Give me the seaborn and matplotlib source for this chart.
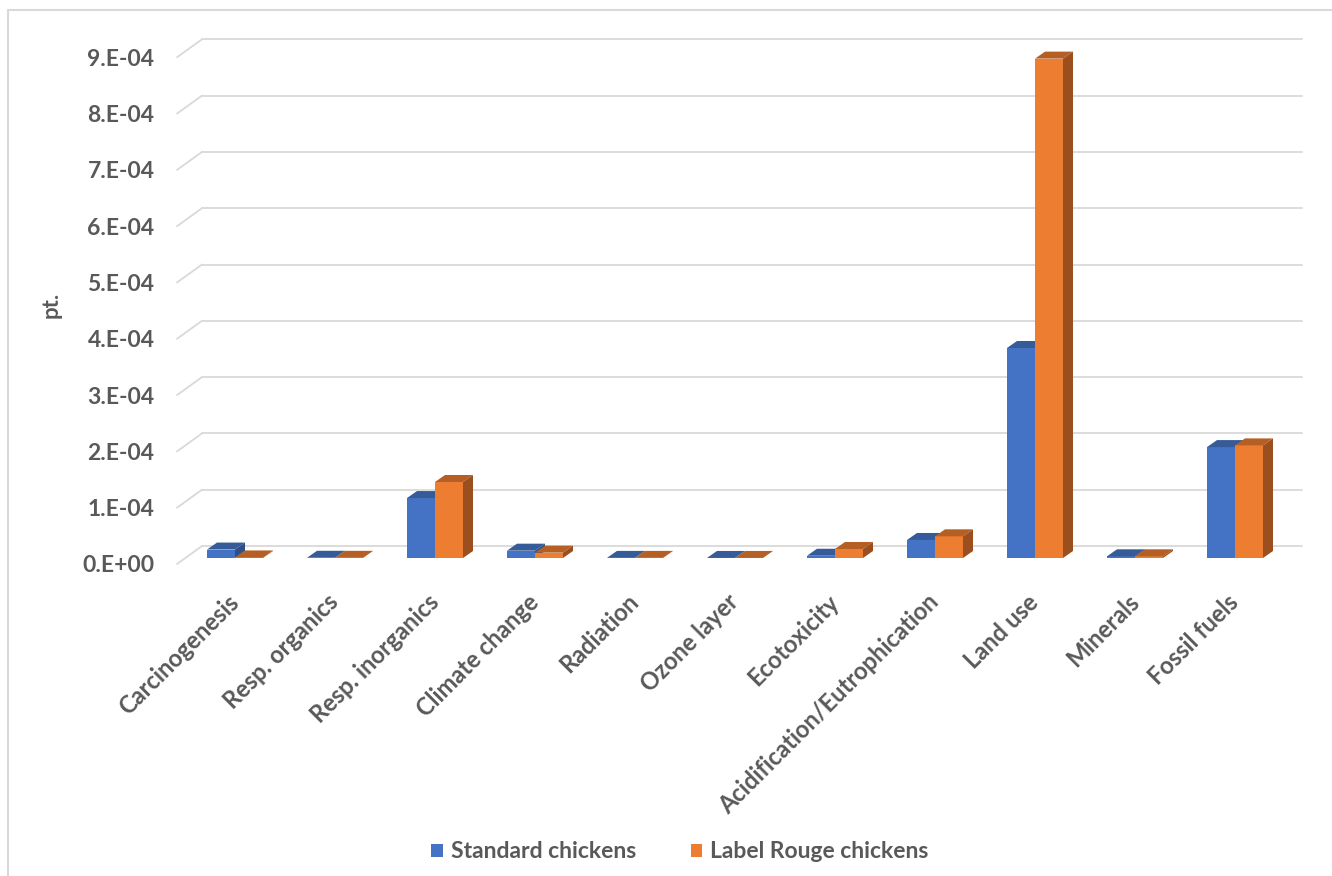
import numpy as np
import pandas as pd
import seaborn as sns
import matplotlib.pyplot as plt
from matplotlib.patches import Polygon
from matplotlib.lines import Line2D
from matplotlib.transforms import ScaledTranslation

# Data
categories = ["Carcinogenesis", "Resp. organics", "Resp. inorganics", "Climate change",
              "Radiation", "Ozone layer", "Ecotoxicity", "Acidification/Eutrophication",
              "Land use", "Minerals", "Fossil fuels"]
standard = [1.5e-5, 4e-7, 1.065e-4, 1.3e-5, 2e-7, 1e-7, 4e-6, 3.2e-5, 3.73e-4, 3e-6, 1.97e-4]
label_rouge = [1e-6, 3e-7, 1.35e-4, 9.5e-6, 2e-7, 1e-7, 1.6e-5, 3.85e-5, 8.87e-4, 3e-6, 2.0e-4]
series = ["Standard chickens", "Label Rouge chickens"]
yticks = [0, 1e-4, 2e-4, 3e-4, 4e-4, 5e-4, 6e-4, 7e-4, 8e-4, 9e-4]
ytick_labels = ["0.E+00", "1.E-04", "2.E-04", "3.E-04", "4.E-04",
                "5.E-04", "6.E-04", "7.E-04", "8.E-04", "9.E-04"]

front = ["#4472C4", "#ED7D31"]
top = ["#355B99", "#B65F24"]
side = ["#2E5088", "#9B4F1E"]
text_col = "#595959"
grid_col = "#D9D9D9"

df = pd.DataFrame({
    "category": categories * 2,
    "series": [series[0]] * len(categories) + [series[1]] * len(categories),
    "value": standard + label_rouge,
})

sns.set_style("white")
plt.rcParams["font.family"] = ["Lato", "DejaVu Sans"]

W, H, DPI = 1332, 876, 100
fig = plt.figure(figsize=(W / DPI, H / DPI), dpi=DPI)
ax_l, ax_b, ax_w, ax_h = 185, 558, 1100, 506.7
ax = fig.add_axes([ax_l / W, (H - ax_b) / H, ax_w / W, ax_h / H])

sns.barplot(data=df, x="category", y="value", hue="series", hue_order=series,
            order=categories, palette=front, saturation=1, width=0.56,
            linewidth=0, edgecolor="none", ax=ax)

ax.set_xlim(-0.5, 10.5)
ax.set_ylim(0, 9e-4)

# pixel -> data conversion for the fake 3D depth
px_x = 11 / ax_w
px_y = 9e-4 / ax_h

# back wall gridlines and side wall diagonals
x0, x1 = ax.get_xlim()
for v in yticks:
    ax.plot([x0 + 17 * px_x, x1 + 17 * px_x], [v + 12 * px_y] * 2,
            color=grid_col, lw=1.3, zorder=0, clip_on=False)
    ax.plot([x0 - 8 * px_x, x0 + 17 * px_x], [v - 6 * px_y, v + 12 * px_y],
            color=grid_col, lw=1.3, zorder=0, clip_on=False)

# top and side faces of every bar
dx, dy = 10 * px_x, 7 * px_y
n = len(categories)
for i, bar in enumerate(ax.patches[:2 * n]):
    k = i // n
    x, w, h = bar.get_x(), bar.get_width(), bar.get_height()
    bar.set_zorder(2 + k)
    ax.add_patch(Polygon([(x, h), (x + w, h), (x + w + dx, h + dy), (x + dx, h + dy)],
                         closed=True, facecolor=top[k], lw=0, zorder=2 + k, clip_on=False))
    ax.add_patch(Polygon([(x + w, 0), (x + w, h), (x + w + dx, h + dy), (x + w + dx, dy)],
                         closed=True, facecolor=side[k], lw=0, zorder=2 + k, clip_on=False))

handles, labels = ax.get_legend_handles_labels()
ax.get_legend().remove()

sns.despine(ax=ax, left=True, bottom=True)
ax.set_xlabel("")
ax.set_ylabel("pt.", fontsize=16, fontweight="bold", color=text_col)
ax.yaxis.set_label_coords(-0.112, 0.5)

ax.set_yticks(yticks)
ax.set_yticklabels(ytick_labels, fontsize=16.5, fontweight="bold", color=text_col)
ax.tick_params(axis="y", length=0, pad=22)
ax.set_xticks(range(n))
ax.set_xticklabels(categories, fontsize=17, fontweight="bold", color=text_col,
                   rotation=45, ha="right", va="center", rotation_mode="anchor")
ax.tick_params(axis="x", length=0, pad=29)

shift = ScaledTranslation(0, -6 / DPI, fig.dpi_scale_trans)
for lab in ax.get_yticklabels():
    lab.set_transform(lab.get_transform() + shift)

fig.legend(handles, labels, loc="center", bbox_to_anchor=(680 / W, 1 - 852 / H), ncol=2,
           frameon=False, handlelength=0.5, handleheight=0.5, handletextpad=0.35,
           columnspacing=2.4, prop={"size": 16.5, "weight": "bold"}, labelcolor=text_col)

# chart area border (left and top only are visible)
fig.add_artist(Line2D([8 / W, 8 / W], [0, 1 - 10 / H], color=grid_col, lw=1.5))
fig.add_artist(Line2D([8 / W, 1], [1 - 10 / H, 1 - 10 / H], color=grid_col, lw=1.5))

fig.savefig("out.png", dpi=DPI)
